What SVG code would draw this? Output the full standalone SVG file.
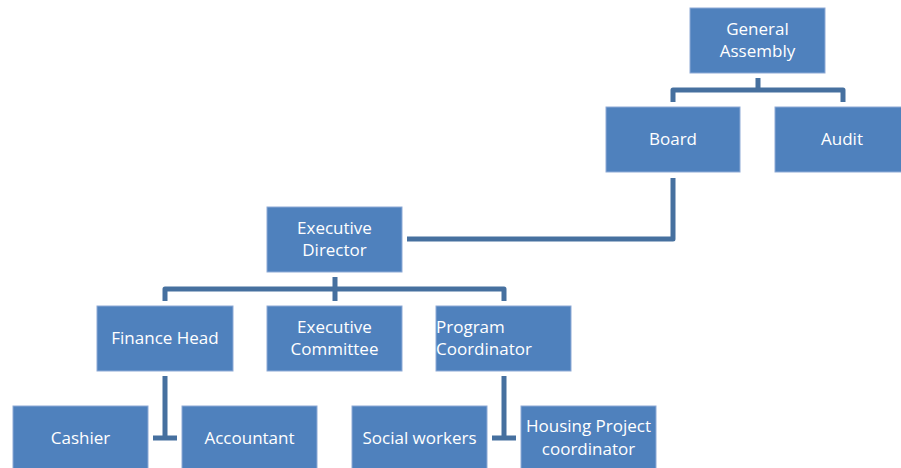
<svg xmlns="http://www.w3.org/2000/svg" width="901" height="468" viewBox="0 0 901 468">
  <style>
    .box { fill: #4f81bd; stroke: #8eaad6; stroke-width: 1; }
    .lbl { font-family: "Open Sans", "Liberation Sans", sans-serif; font-size: 17px; fill: #ffffff; text-anchor: middle; }
    .lbl-left { text-anchor: start; }
    .link { fill: none; stroke: #46709f; stroke-width: 5; stroke-linejoin: round; }
  </style>
  <rect width="901" height="468" fill="#ffffff"/>

  <!-- connectors -->
  <g id="connectors">
    <path class="link" d="M758,78 V90 M673,102 V90 H843 V102"/>
    <path class="link" d="M673,178 V239 H407"/>
    <path class="link" d="M335,277 V301 M165,301 V289 H504 V301"/>
    <path class="link" d="M165,376 V438 M153,438 H177"/>
    <path class="link" d="M504,376 V438 M492,438 H516"/>
  </g>

  <g id="general-assembly">
    <rect class="box" x="690" y="8" width="135" height="65"/>
    <text class="lbl" x="757.5" y="35">General</text>
    <text class="lbl" x="757.5" y="57">Assembly</text>
  </g>
  <g id="board">
    <rect class="box" x="606" y="107" width="134" height="65"/>
    <text class="lbl" x="673" y="145">Board</text>
  </g>
  <g id="audit">
    <rect class="box" x="775" y="107" width="134" height="65"/>
    <text class="lbl" x="842" y="145">Audit</text>
  </g>
  <g id="executive-director">
    <rect class="box" x="267" y="207" width="135" height="65"/>
    <text class="lbl" x="334.5" y="234">Executive</text>
    <text class="lbl" x="334.5" y="256">Director</text>
  </g>
  <g id="finance-head">
    <rect class="box" x="97" y="306" width="136" height="65"/>
    <text class="lbl" x="165" y="344">Finance Head</text>
  </g>
  <g id="executive-committee">
    <rect class="box" x="267" y="306" width="135" height="65"/>
    <text class="lbl" x="334.5" y="333">Executive</text>
    <text class="lbl" x="334.5" y="355">Committee</text>
  </g>
  <g id="program-coordinator">
    <rect class="box" x="436" y="306" width="135" height="65"/>
    <text class="lbl lbl-left" x="436" y="333">Program</text>
    <text class="lbl lbl-left" x="436" y="355">Coordinator</text>
  </g>
  <g id="cashier">
    <rect class="box" x="13" y="406" width="135" height="65"/>
    <text class="lbl" x="80.5" y="444">Cashier</text>
  </g>
  <g id="accountant">
    <rect class="box" x="182" y="406" width="135" height="65"/>
    <text class="lbl" x="249.5" y="444">Accountant</text>
  </g>
  <g id="social-workers">
    <rect class="box" x="352" y="406" width="135" height="65"/>
    <text class="lbl" x="419.5" y="444">Social workers</text>
  </g>
  <g id="housing-project-coordinator">
    <rect class="box" x="521" y="406" width="135" height="65"/>
    <text class="lbl" x="588.5" y="432">Housing Project</text>
    <text class="lbl" x="588.5" y="455">coordinator</text>
  </g>
</svg>
